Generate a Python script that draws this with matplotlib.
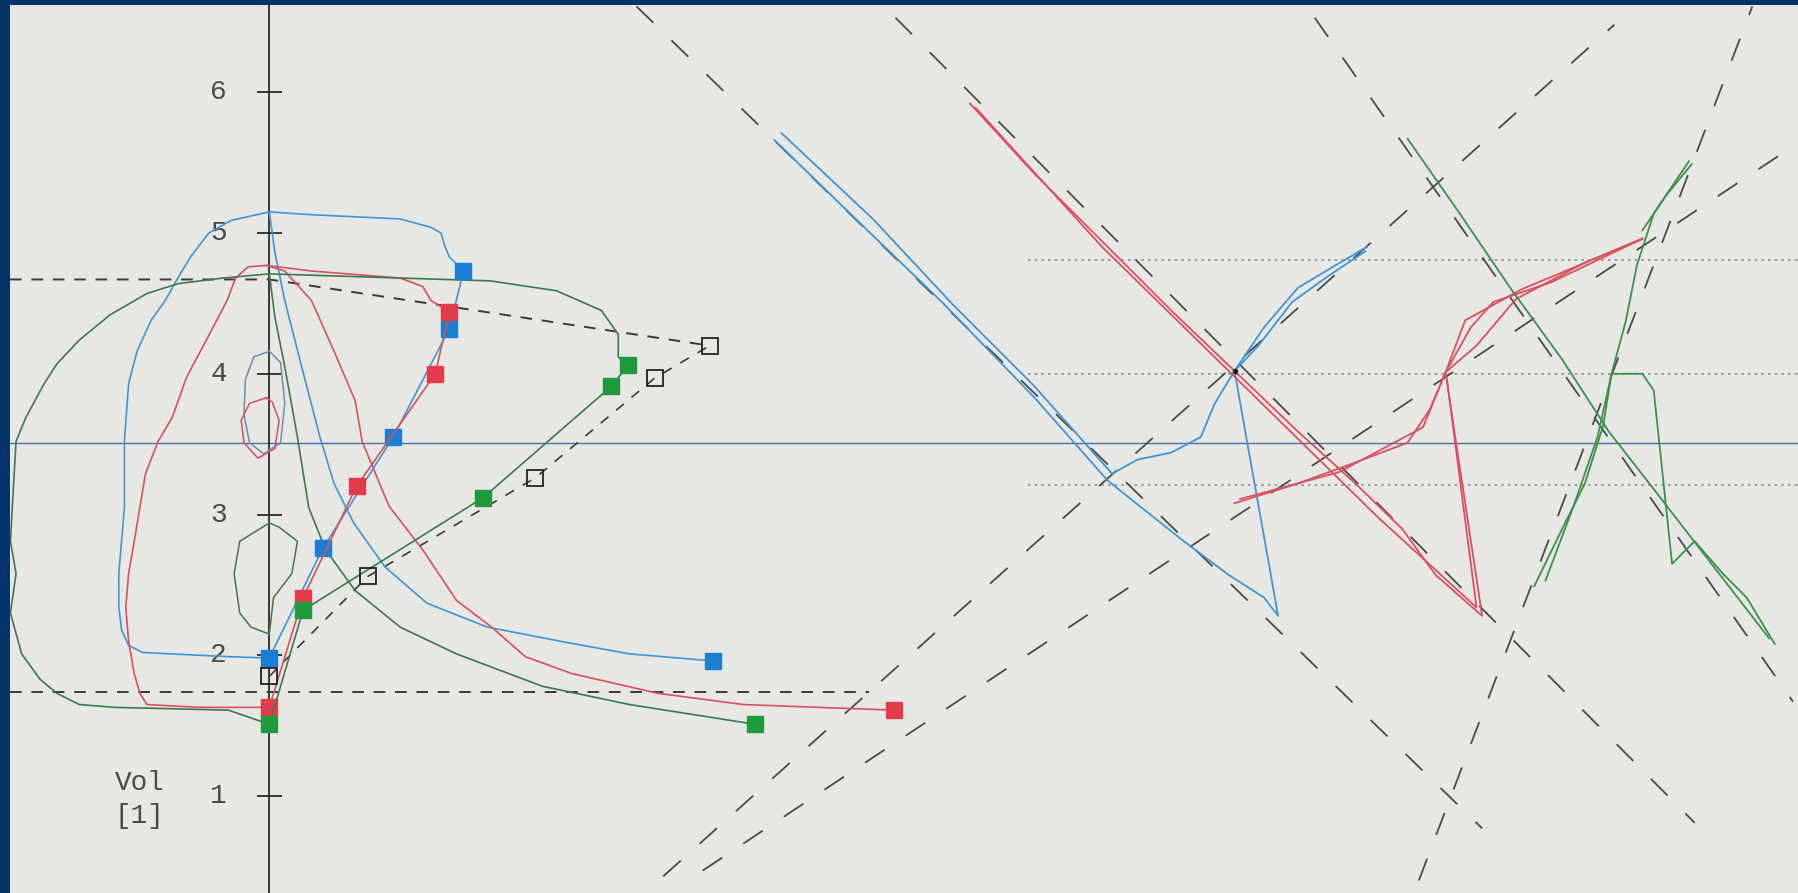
import matplotlib.pyplot as plt

# volume ticks on the vertical axis
vol_ticks = [1, 2, 3, 4, 5, 6]

# --- left part: volume loops (x = time/flow units, y = Vol [l]) ---
blue_loop_x = [0.0, -0.29, -0.90, -1.00, -1.05, -1.07, -1.07, -1.05, -1.03, -1.03, -1.03, -1.00, -0.94,
               -0.84, -0.74, -0.65, -0.56, -0.43, -0.27, 0.0, 0.30, 0.93, 1.15, 1.22, 1.25, 1.28, 1.38]
blue_loop_y = [1.98, 1.99, 2.02, 2.07, 2.18, 2.35, 2.58, 2.81, 3.05, 3.29, 3.52, 3.93, 4.16,
               4.38, 4.52, 4.68, 4.83, 5.00, 5.09, 5.15, 5.13, 5.10, 5.04, 5.00, 4.90, 4.83, 4.73]
blue_fall_x = [0.0, 0.04, 0.11, 0.23, 0.36, 0.46, 0.60, 0.82, 1.12, 1.55, 2.12, 2.56, 3.15]
blue_fall_y = [5.15, 4.86, 4.52, 4.05, 3.55, 3.22, 2.94, 2.63, 2.37, 2.20, 2.09, 2.01, 1.96]

red_loop_x = [0.0, -0.50, -0.87, -0.92, -0.96, -1.00, -1.02, -1.00, -0.96, -0.92, -0.88, -0.79, -0.69,
              -0.59, -0.49, -0.40, -0.30, -0.24, -0.15, -0.02, 0.30, 0.93, 1.09, 1.15, 1.28]
red_loop_y = [1.63, 1.63, 1.65, 1.73, 1.87, 2.10, 2.34, 2.58, 2.81, 3.05, 3.29, 3.52, 3.69,
              3.97, 4.16, 4.33, 4.52, 4.68, 4.76, 4.77, 4.73, 4.68, 4.62, 4.52, 4.44]
red_fall_x = [-0.02, 0.11, 0.30, 0.46, 0.61, 0.66, 0.85, 1.09, 1.33, 1.58, 1.82, 2.15, 2.76, 3.37, 4.44]
red_fall_y = [4.77, 4.73, 4.52, 4.16, 3.81, 3.52, 3.06, 2.75, 2.39, 2.20, 1.99, 1.87, 1.73, 1.65, 1.61]

green_loop_x = [0.0, -0.29, -1.10, -1.35, -1.51, -1.63, -1.76, -1.84, -1.80, -1.84, -1.82, -1.80, -1.73,
                -1.60, -1.51, -1.35, -1.13, -0.87, -0.65, -0.33, 0.0, 0.93, 1.57, 2.04, 2.36, 2.48, 2.48, 2.55]
green_loop_y = [1.51, 1.61, 1.63, 1.65, 1.73, 1.83, 2.01, 2.30, 2.58, 2.81, 3.17, 3.52, 3.69,
                3.93, 4.07, 4.24, 4.42, 4.57, 4.64, 4.68, 4.71, 4.68, 4.66, 4.59, 4.45, 4.28, 4.12, 4.06]
green_fall_x = [0.0, 0.04, 0.11, 0.20, 0.28, 0.40, 0.61, 0.93, 1.33, 1.94, 2.56, 3.45]
green_fall_y = [4.71, 4.40, 4.05, 3.55, 3.05, 2.75, 2.46, 2.20, 2.01, 1.78, 1.65, 1.51]

# small inner loops around the axis
inner_blue_x = [0.0, -0.11, -0.17, -0.18, -0.14, -0.04, 0.08, 0.11, 0.08, 0.0]
inner_blue_y = [4.16, 4.12, 3.96, 3.71, 3.51, 3.43, 3.51, 3.79, 4.08, 4.16]
inner_red_x = [-0.02, -0.14, -0.20, -0.18, -0.08, 0.04, 0.07, 0.02, -0.02]
inner_red_y = [3.83, 3.79, 3.67, 3.51, 3.40, 3.47, 3.67, 3.80, 3.83]
inner_grey_x = [0.0, -0.21, -0.25, -0.21, -0.13, 0.0, 0.03, 0.16, 0.20, 0.07, 0.0]
inner_grey_y = [2.94, 2.81, 2.58, 2.30, 2.20, 2.15, 2.41, 2.58, 2.81, 2.91, 2.94]

# square markers (chains)
blue_sq_x = [1.38, 1.28, 0.88, 0.38, 0.0]
blue_sq_y = [4.73, 4.32, 3.55, 2.76, 1.98]
red_sq_x = [1.28, 1.18, 0.62, 0.24, 0.0]
red_sq_y = [4.44, 4.00, 3.20, 2.41, 1.63]
green_sq_x = [2.55, 2.43, 1.52, 0.24, 0.0]
green_sq_y = [4.06, 3.91, 3.12, 2.32, 1.51]
open_sq_x = [0.0, 0.70, 1.89, 2.74, 3.13]
open_sq_y = [1.85, 2.56, 3.26, 3.97, 4.20]
end_sq_x = [3.15, 4.44, 3.45]
end_sq_y = [1.96, 1.61, 1.51]

# reference levels
upper_level = 4.67
lower_level = 1.74
baseline_level = 3.51
dotted_levels = [4.81, 4.00, 3.21]

# dashed guide lines (start / end)
guides = [((2.61, 6.61), (8.62, 0.77)),
          ((4.45, 6.53), (10.13, 0.81)),
          ((7.43, 6.53), (10.83, 1.67)),
          ((2.80, 0.43), (9.56, 6.48)),
          ((3.08, 0.47), (10.85, 5.63)),
          ((8.17, 0.40), (10.54, 6.61))]

# --- right part: traces along the guides ---
blue_a_x = [3.64, 4.29, 4.86, 5.43, 5.99, 6.17, 6.41, 6.62, 6.72, 6.86, 7.07, 7.31, 7.56, 7.80]
blue_a_y = [5.71, 5.10, 4.49, 3.92, 3.29, 3.39, 3.44, 3.55, 3.79, 4.02, 4.33, 4.61, 4.76, 4.90]
blue_b_x = [3.59, 4.25, 4.78, 5.43, 5.96, 6.50, 6.82, 7.07, 7.17, 6.86, 7.03, 7.27, 7.52, 7.79]
blue_b_y = [5.66, 5.02, 4.51, 3.84, 3.24, 2.81, 2.57, 2.41, 2.28, 4.02, 4.20, 4.51, 4.69, 4.87]

red_a_x = [4.98, 5.43, 5.92, 6.41, 6.86, 7.31, 7.72, 8.05, 8.29, 8.62, 8.36, 8.54, 8.70, 9.11, 9.76]
red_a_y = [5.92, 5.43, 4.94, 4.45, 4.02, 3.59, 3.22, 2.90, 2.57, 2.28, 4.01, 4.33, 4.51, 4.65, 4.96]
red_b_x = [5.02, 5.92, 6.86, 7.88, 8.58, 8.37]
red_b_y = [5.89, 4.90, 3.98, 2.98, 2.34, 3.96]
red_c_x = [6.86, 7.31, 7.72, 8.09, 8.25, 8.36, 8.58, 8.86, 9.35, 9.76]
red_c_y = [3.08, 3.22, 3.37, 3.51, 3.75, 4.01, 4.20, 4.53, 4.79, 4.96]
red_d_x = [6.90, 7.60, 8.20, 8.36, 8.50, 8.90, 9.50, 9.76]
red_d_y = [3.11, 3.30, 3.62, 4.01, 4.38, 4.60, 4.85, 4.96]

green_a_x = [8.09, 8.46, 8.82, 9.19, 9.52, 9.84, 10.25, 10.66]
green_a_y = [5.67, 5.14, 4.61, 4.10, 3.59, 3.18, 2.65, 2.12]
green_b_x = [8.99, 9.19, 9.35, 9.48, 9.54, 9.64, 9.72, 9.84, 10.09]
green_b_y = [2.49, 2.90, 3.22, 3.63, 4.00, 4.37, 4.77, 5.14, 5.51]
green_c_x = [9.07, 9.27, 9.44, 9.54, 9.76, 9.84, 9.97, 10.13, 10.34, 10.50, 10.70]
green_c_y = [2.53, 3.06, 3.55, 4.00, 4.00, 3.88, 2.65, 2.81, 2.57, 2.41, 2.08]
green_d_x = [9.76, 9.93, 10.11]
green_d_y = [5.02, 5.27, 5.49]

BLUE, RED, GREEN, DGREEN = '#3f96d6', '#d9505e', '#3a924a', '#3c7a4e'
SQ_BLUE, SQ_RED, SQ_GREEN = '#1a7fd2', '#e23c4a', '#1f9a3c'
INK = '#3a3a3a'
LABEL = dict(ha='center', va='center', family=['Liberation Mono', 'DejaVu Sans Mono'],
             fontsize=20, color='#4a4a4a')

fig = plt.figure(figsize=(17.98, 8.93), dpi=100, facecolor='#053468')
ax = fig.add_axes([10 / 1798, 0, 1 - 10 / 1798, 1 - 5 / 893])
ax.set_facecolor('#e7e7e3')
ax.set_xlim(-1.843, 10.865)
ax.set_ylim(0.311, 6.620)
for s in ax.spines.values():
    s.set_visible(False)
ax.set_xticks([])
ax.set_yticks([])

# axis, ticks, labels
ax.axvline(0, color='#2a2a2a', lw=1.3, zorder=2)
ax.hlines(vol_ticks, -0.09, 0.09, color='#2a2a2a', lw=1.3, zorder=2)
for v in vol_ticks:
    ax.text(-0.36, v, str(v), **LABEL)
ax.text(-0.92, 1.09, 'Vol', **LABEL)
ax.text(-0.92, 0.86, '[1]', **LABEL)

# reference lines
ax.axhline(baseline_level, color='#4a72a8', lw=1.0, zorder=1)
ax.plot([ax.get_xlim()[0], 0, open_sq_x[-1]], [upper_level, upper_level, open_sq_y[-1]],
        color=INK, lw=1.4, ls=(0, (6, 5)), zorder=2)
ax.plot([ax.get_xlim()[0], 4.26], [lower_level, lower_level], color=INK, lw=1.4, ls=(0, (6, 5)), zorder=2)
ax.plot(open_sq_x, open_sq_y, color=INK, lw=1.2, ls=(0, (6, 6)), zorder=2)
for lvl in dotted_levels:
    ax.plot([5.39, 10.9], [lvl, lvl], color='#8f8f8f', lw=1.2, ls=(0, (1.5, 2.5)), zorder=1)
for (x0, y0), (x1, y1) in guides:
    ax.plot([x0, x1], [y0, y1], color='#4a4a4a', lw=1.3, ls=(0, (13, 14)), zorder=2)

# left loops
ax.plot(blue_loop_x, blue_loop_y, color=BLUE, lw=1.2, zorder=3)
ax.plot(blue_fall_x, blue_fall_y, color=BLUE, lw=1.2, zorder=3)
ax.plot(red_loop_x, red_loop_y, color=RED, lw=1.2, zorder=3)
ax.plot(red_fall_x, red_fall_y, color=RED, lw=1.2, zorder=3)
ax.plot(green_loop_x, green_loop_y, color=DGREEN, lw=1.2, zorder=3)
ax.plot(green_fall_x, green_fall_y, color=DGREEN, lw=1.2, zorder=3)
ax.plot(inner_blue_x, inner_blue_y, color='#6a8fb0', lw=1.1, zorder=3)
ax.plot(inner_red_x, inner_red_y, color=RED, lw=1.1, zorder=3)
ax.plot(inner_grey_x, inner_grey_y, color=DGREEN, lw=1.1, zorder=3)

# square chains
ax.plot(blue_sq_x, blue_sq_y, color=BLUE, lw=1.2, marker='s', ms=11, mfc=SQ_BLUE, mec=SQ_BLUE, zorder=4)
ax.plot(red_sq_x, red_sq_y, color=RED, lw=1.2, marker='s', ms=11, mfc=SQ_RED, mec=SQ_RED, zorder=4)
ax.plot(green_sq_x, green_sq_y, color=DGREEN, lw=1.2, marker='s', ms=11, mfc=SQ_GREEN, mec=SQ_GREEN, zorder=4)
ax.plot(open_sq_x, open_sq_y, ls='none', marker='s', ms=11, mfc='none', mec='#222222', mew=1.3, zorder=4)
for x, y, c in zip(end_sq_x, end_sq_y, [SQ_BLUE, SQ_RED, SQ_GREEN]):
    ax.plot(x, y, ls='none', marker='s', ms=11, mfc=c, mec=c, zorder=4)

# right traces
for xs, ys in [(blue_a_x, blue_a_y), (blue_b_x, blue_b_y)]:
    ax.plot(xs, ys, color=BLUE, lw=1.3, zorder=3)
for xs, ys in [(red_a_x, red_a_y), (red_b_x, red_b_y), (red_c_x, red_c_y), (red_d_x, red_d_y)]:
    ax.plot(xs, ys, color=RED, lw=1.3, zorder=3)
for xs, ys in [(green_a_x, green_a_y), (green_b_x, green_b_y), (green_c_x, green_c_y), (green_d_x, green_d_y)]:
    ax.plot(xs, ys, color=GREEN, lw=1.3, zorder=3)
ax.plot([6.86], [4.02], 'o', color='#222222', ms=3, zorder=5)

fig.savefig('out.png', dpi=100, facecolor=fig.get_facecolor())
